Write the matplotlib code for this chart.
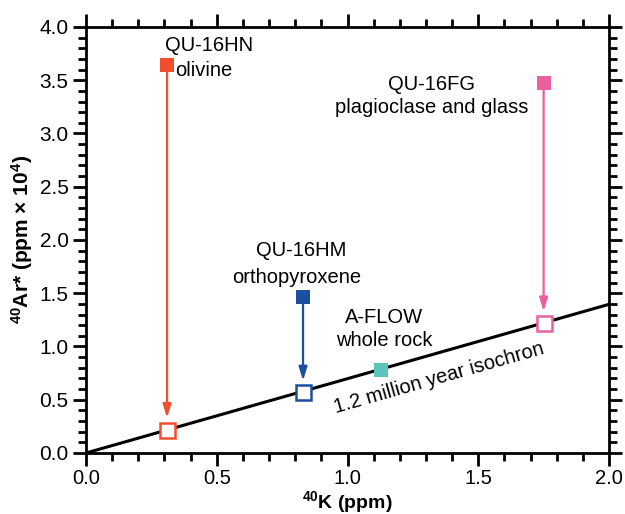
import numpy as np
import matplotlib
matplotlib.use("Agg")
import matplotlib.pyplot as plt
from matplotlib.ticker import MultipleLocator

plt.rcParams['font.family'] = ['Liberation Sans', 'DejaVu Sans']
plt.rcParams['mathtext.fontset'] = 'custom'
plt.rcParams['mathtext.rm'] = 'Liberation Sans'
plt.rcParams['mathtext.bf'] = 'Liberation Sans:bold'

# samples: name, mineral, 40K, measured 40Ar*, isochron 40Ar*
names = ["QU-16HN", "QU-16HM", "QU-16FG"]
minerals = ["olivine", "orthopyroxene", "plagioclase and glass"]
k40 = [0.31, 0.83, 1.75]
ar_measured = [3.64, 1.46, 3.47]
ar_expected = [0.22, 0.57, 1.22]
colors = ["#F04E2C", "#1B4FA0", "#E8609E"]

wholerock_k = 1.13
wholerock_ar = 0.78
wholerock_color = "#5CC4BE"

iso_x = [0.0, 2.0]
iso_y = [0.0, 1.396]

fig = plt.figure(figsize=(6.25, 5.14), dpi=100)
ax = fig.add_axes([0.1376, 0.1187, 0.8368, 0.8288])

ax.plot(iso_x, iso_y, color="black", lw=2.2, zorder=2)

for i in range(len(names)):
    ax.annotate("", xy=(k40[i], ar_expected[i] + 0.11), xytext=(k40[i], ar_measured[i]),
                arrowprops=dict(arrowstyle="-|>,head_length=0.8,head_width=0.25",
                                color=colors[i], lw=1.6, shrinkA=0, shrinkB=0), zorder=3)
    ax.plot(k40[i], ar_measured[i], "s", color=colors[i], ms=10.5, mew=0, zorder=4)
    ax.plot(k40[i], ar_expected[i], "s", mfc="white", mec=colors[i], mew=1.8, ms=10.8, zorder=4)

ax.plot(wholerock_k, wholerock_ar, "s", color=wholerock_color, ms=10.5, mew=0, zorder=4)

fs = 14.5
ax.text(0.47, 3.77, "QU-16HN", ha="center", va="baseline", fontsize=fs)
ax.text(0.34, 3.54, "olivine", ha="left", va="baseline", fontsize=fs)
ax.text(0.822, 1.85, "QU-16HM", ha="center", va="baseline", fontsize=fs)
ax.text(0.807, 1.60, "orthopyroxene", ha="center", va="baseline", fontsize=fs)
ax.text(1.323, 3.41, "QU-16FG", ha="center", va="baseline", fontsize=fs)
ax.text(1.323, 3.19, "plagioclase and glass", ha="center", va="baseline", fontsize=fs)
ax.text(1.14, 1.22, "A-FLOW", ha="center", va="baseline", fontsize=fs)
ax.text(1.14, 1.0, "whole rock", ha="center", va="baseline", fontsize=fs)
ax.text(1.35, 0.70, "1.2 million year isochron", ha="center", va="center",
        fontsize=fs, rotation=15.9, rotation_mode="anchor")

ax.set_xlim(0, 2.0)
ax.set_ylim(0, 4.0)
ax.xaxis.set_major_locator(MultipleLocator(0.5))
ax.xaxis.set_minor_locator(MultipleLocator(0.1))
ax.yaxis.set_major_locator(MultipleLocator(0.5))
ax.yaxis.set_minor_locator(MultipleLocator(0.1))
ax.xaxis.set_major_formatter(plt.FormatStrFormatter("%.1f"))
ax.yaxis.set_major_formatter(plt.FormatStrFormatter("%.1f"))
ax.tick_params(which="both", direction="out", width=2.0, top=True, right=True,
               labelsize=15, pad=3)
ax.tick_params(axis="x", which="both", labelsize=14.5, pad=2)
ax.tick_params(which="major", length=9.5)
ax.tick_params(which="minor", length=5.5)
for s in ax.spines.values():
    s.set_linewidth(2.0)

ax.set_xlabel(r"$\mathbf{^{40}}$K (ppm)", fontsize=14, fontweight="bold", labelpad=0.5)
ax.set_ylabel(r"$\mathbf{^{40}}$Ar* (ppm × 10$\mathbf{^{4}}$)", fontsize=15,
              fontweight="bold", labelpad=3)

fig.savefig("out.png", dpi=100)
